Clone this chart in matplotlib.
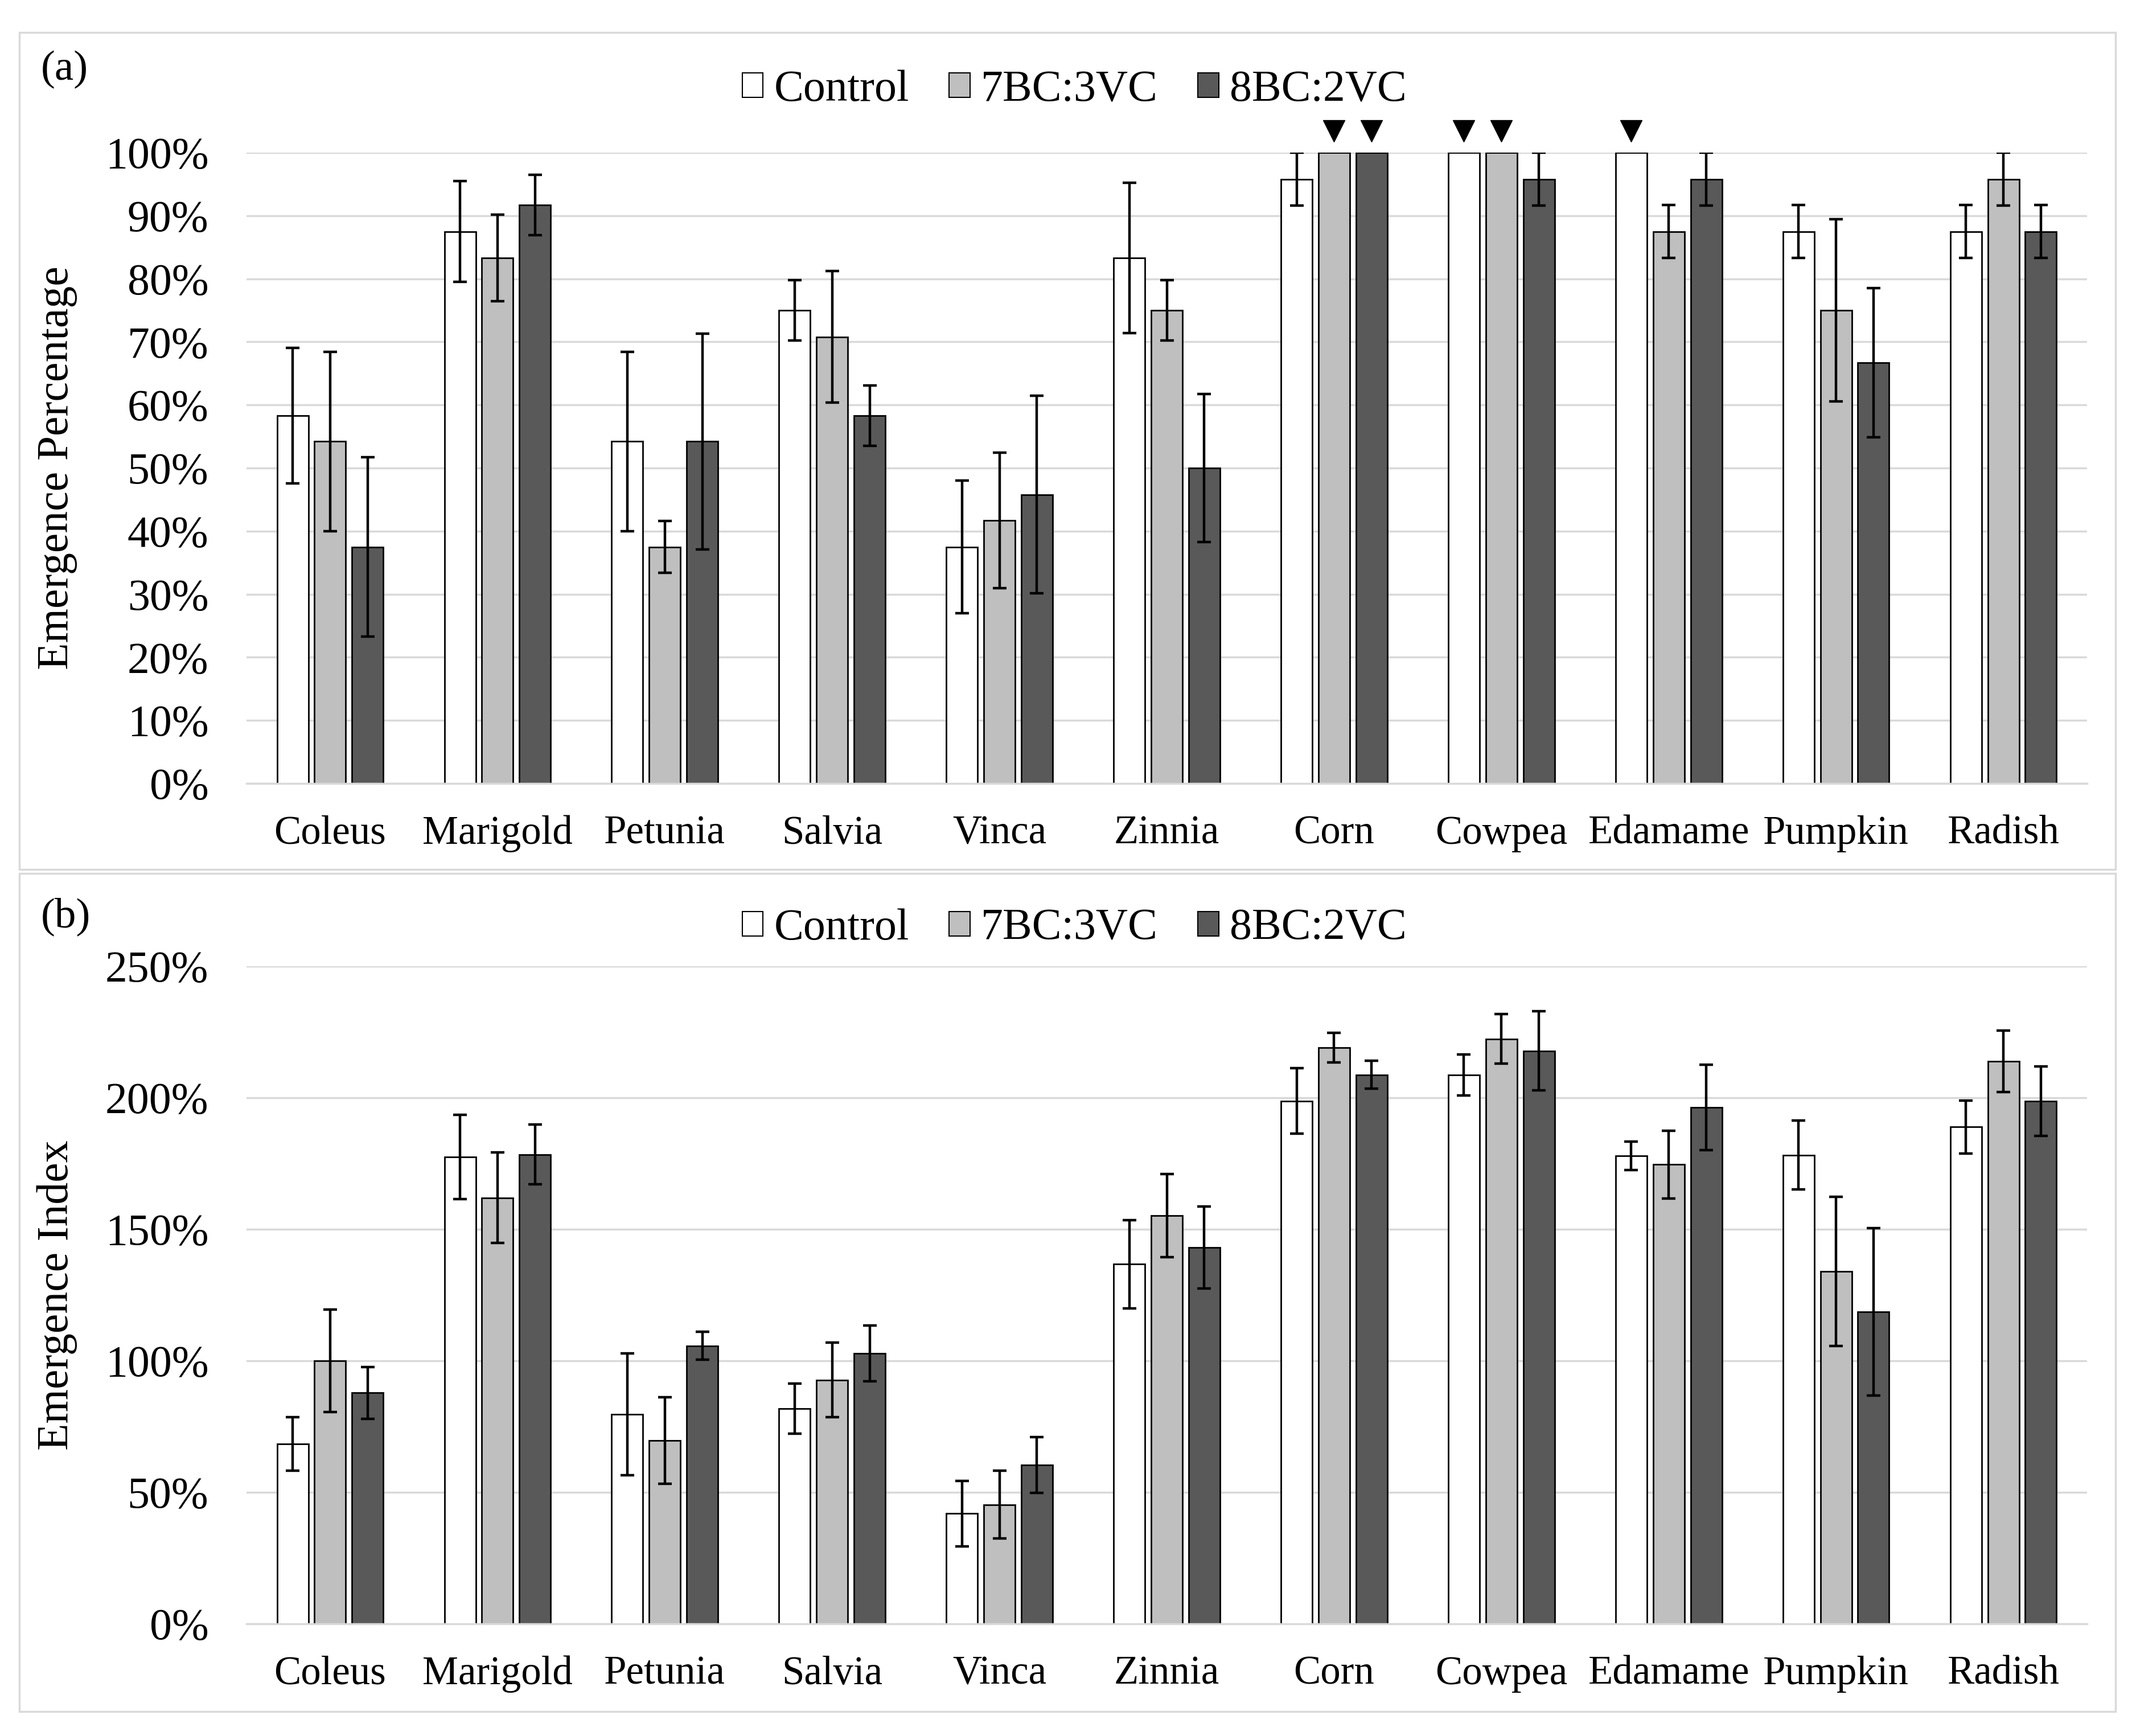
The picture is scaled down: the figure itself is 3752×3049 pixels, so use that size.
import numpy as np
import matplotlib
matplotlib.use("Agg")
import matplotlib.pyplot as plt
from matplotlib.patches import Patch, Rectangle
from matplotlib.ticker import PercentFormatter

plt.rcParams['font.family'] = ['Liberation Serif', 'DejaVu Serif']

crops = ["Coleus", "Marigold", "Petunia", "Salvia", "Vinca", "Zinnia",
         "Corn", "Cowpea", "Edamame", "Pumpkin", "Radish"]
series = ["Control", "7BC:3VC", "8BC:2VC"]
colors = ["#ffffff", "#bfbfbf", "#595959"]

# (a) emergence percentage, %
pct_control = [58.3, 87.5, 54.2, 75.0, 37.5, 83.3, 95.8, 100.0, 100.0, 87.5, 87.5]
pct_7bc = [54.2, 83.3, 37.5, 70.8, 41.7, 75.0, 100.0, 100.0, 87.5, 75.0, 95.8]
pct_8bc = [37.5, 91.7, 54.2, 58.3, 45.8, 50.0, 100.0, 95.8, 95.8, 66.7, 87.5]
pct_err_control = [10.7, 8.0, 14.2, 4.8, 10.5, 11.9, 4.2, 0, 0, 4.2, 4.2]
pct_err_7bc = [14.2, 6.9, 4.1, 10.4, 10.7, 4.8, 0, 0, 4.2, 14.4, 4.2]
pct_err_8bc = [14.2, 4.8, 17.1, 4.8, 15.7, 11.7, 0, 4.2, 4.2, 11.8, 4.2]

# crops marked with a triangle, per series
marked = {"Control": ["Cowpea", "Edamame"],
          "7BC:3VC": ["Corn", "Cowpea"],
          "8BC:2VC": ["Corn"]}

# (b) emergence index, %
idx_control = [68.4, 177.5, 79.6, 81.9, 41.9, 136.7, 198.8, 208.7, 178.0, 178.2, 188.9]
idx_7bc = [100.0, 162.0, 69.7, 92.7, 45.3, 155.2, 219.0, 222.4, 174.6, 134.0, 213.8]
idx_8bc = [87.8, 178.4, 105.7, 102.8, 60.4, 143.0, 208.7, 217.8, 196.3, 118.6, 198.8]
idx_err_control = [10.1, 16.1, 23.2, 9.5, 12.5, 16.7, 12.5, 7.8, 5.4, 13.1, 10.1]
idx_err_7bc = [19.5, 17.2, 16.5, 14.2, 12.9, 15.9, 5.6, 9.4, 12.9, 28.4, 11.7]
idx_err_8bc = [9.8, 11.4, 5.3, 10.7, 10.7, 15.6, 5.3, 15.0, 16.2, 31.8, 13.2]

W, H = 3752, 3049
fig = plt.figure(figsize=(W / 100, H / 100), dpi=100)

# panel frames
for y0, y1 in [(57, 1527), (1534, 3006)]:
    fig.add_artist(Rectangle((34 / W, 1 - y1 / H), (3716 - 34) / W, (y1 - y0) / H,
                             transform=fig.transFigure, fill=False,
                             edgecolor='#d9d9d9', lw=2.5))

ax_a = fig.add_axes([433 / W, 1 - 1376 / H, (3666 - 433) / W, (1376 - 268) / H])
ax_b = fig.add_axes([433 / W, 1 - 2852 / H, (3666 - 433) / W, (2852 - 1697) / H])

x = np.arange(len(crops))
offsets = [-0.224, 0.0, 0.224]
width = 0.187


def draw(ax, vals, errs, ymax, step, ylabel):
    for i in range(3):
        e = np.array(errs[i], dtype=float)
        ax.bar(x + offsets[i], vals[i], width, color=colors[i],
               edgecolor='black', lw=2.0, zorder=2)
        m = e > 0
        ax.errorbar((x + offsets[i])[m], np.array(vals[i])[m], yerr=e[m],
                    fmt='none', ecolor='black', elinewidth=3.2, capsize=8.5,
                    capthick=3.2, zorder=3)
    ax.set_xlim(-0.5, len(crops) - 0.5)
    ax.set_ylim(0, ymax)
    ax.set_yticks(np.arange(0, ymax + 0.1, step))
    ax.yaxis.set_major_formatter(PercentFormatter(100, decimals=0))
    ax.set_xticks(x)
    ax.set_xticklabels(crops, fontsize=51)
    ax.tick_params(axis='y', length=0, pad=48, labelsize=56)
    ax.tick_params(axis='x', length=0, pad=40)
    ax.grid(axis='y', color='#d9d9d9', lw=2.5, zorder=0)
    ax.set_axisbelow(True)
    for s in ['top', 'right', 'left']:
        ax.spines[s].set_visible(False)
    ax.spines['bottom'].set_color('#d9d9d9')
    ax.spines['bottom'].set_linewidth(2.5)
    ax.set_ylabel(ylabel, fontsize=56)
    ax.yaxis.set_label_coords(-0.092, 0.5)


draw(ax_a, [pct_control, pct_7bc, pct_8bc],
     [pct_err_control, pct_err_7bc, pct_err_8bc], 100, 10, "Emergence Percentage")
draw(ax_b, [idx_control, idx_7bc, idx_8bc],
     [idx_err_control, idx_err_7bc, idx_err_8bc], 250, 50, "Emergence Index")

# triangle markers above full-emergence bars
for i, name in enumerate(series):
    xs = [x[crops.index(c)] + offsets[i] for c in marked[name]]
    ax_a.plot(xs, [103.4] * len(xs), 'v', color='black', markersize=28,
              clip_on=False, zorder=4)

handles = [Patch(facecolor=c, edgecolor='black', lw=1.5) for c in colors]
for yy in [0.948, 0.465]:
    fig.legend(handles, series, loc='center', bbox_to_anchor=(0.503, yy),
               ncol=3, frameon=False, fontsize=56, handlelength=0.47,
               handleheight=0.47, handletextpad=0.25, columnspacing=0.9)

fig.text(72 / W, 1 - 122 / H, "(a)", fontsize=54, va='center', ha='left')
fig.text(72 / W, 1 - 1610 / H, "(b)", fontsize=54, va='center', ha='left')

fig.savefig("out.png", dpi=100)
